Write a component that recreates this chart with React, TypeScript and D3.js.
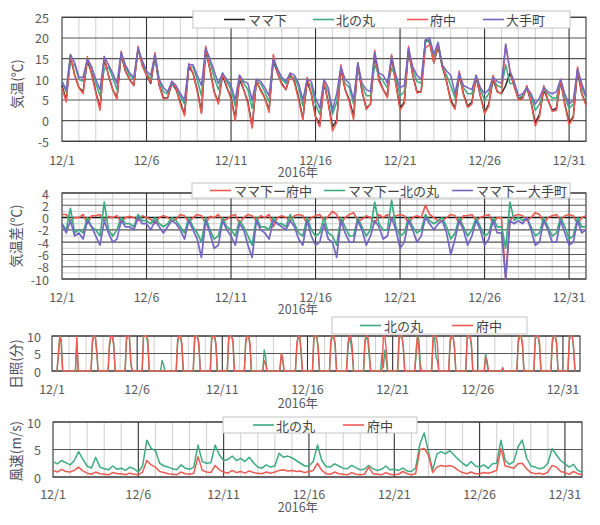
import React from 'react';
import * as d3 from 'd3';

const FONT = '"Noto Sans CJK JP", "Noto Sans", sans-serif';
const TEXT = '#595959';
const TITLE = '#4d4d5c';

const DAYS = 31;
const STEPS_PER_DAY = 4; // values at 0h, 6h, 12h, 18h
const sunHours = [7, 9, 11, 13, 15, 17];

const dateLabels = ['12/1', '12/6', '12/11', '12/16', '12/21', '12/26', '12/31'];
const dateLabelDays = [0, 5, 10, 15, 20, 25, 30];
const yearLabel = '2016年';

const tempNames = ['ママ下', '北の丸', '府中', '大手町'];
const diffNames = ['ママ下ー府中', 'ママ下ー北の丸', 'ママ下ー大手町'];
const stationNames = ['北の丸', '府中'];

const C_BLACK = '#262626';
const C_GREEN = '#3dab80';
const C_RED = '#ec5b52';
const C_PURPLE = '#7466c2';

// ママ下 air temperature (°C), 6-hourly from 12/1 0h
const tempMamashita = [
  8.5, 5.0, 15.5, 11.0,
  8.0, 7.0, 14.5, 11.5,
  7.0, 3.0, 15.0, 11.0,
  7.5, 5.5, 16.0, 12.0,
  10.0, 8.5, 17.5, 13.5,
  11.0, 9.0, 15.5, 8.5,
  5.5, 5.5, 9.0, 7.5,
  4.5, 1.5, 13.0, 11.5,
  7.5, 2.0, 17.0, 12.5,
  7.0, 4.5, 11.0, 8.0,
  5.5, 0.5, 10.0, 7.5,
  4.5, -1.5, 9.5, 7.5,
  5.5, 2.5, 14.5, 11.5,
  9.0, 7.5, 11.0, 9.5,
  5.5, 0.5, 9.5, 6.5,
  1.0, -1.0, 9.0, 4.5,
  -1.5, 0.0, 12.5, 7.5,
  5.0, 1.0, 13.5, 7.0,
  3.0, 4.0, 16.0, 10.0,
  7.5, 6.0, 15.5, 9.0,
  3.0, 4.5, 17.0, 11.0,
  7.0, 7.0, 19.5, 19.0,
  14.0, 18.0, 13.0, 9.5,
  5.0, 3.0, 11.0, 6.5,
  3.5, 4.5, 10.5, 6.0,
  2.0, 4.0, 10.0, 7.0,
  6.5, 8.5, 11.5, 8.5,
  5.5, 5.5, 8.0, 4.5,
  -0.5, 1.5, 7.5, 5.0,
  2.5, 3.0, 9.5, 4.0,
  -0.5, 1.0, 12.0, 6.5,
  4.0,
];

// ママ下 − 府中 (°C)
const diffFuchu = [
  0.5, 0.5, -0.5, 0,
  0, 0.5, -1, 0.3,
  0.3, 0.5, -0.5, 0.2,
  0, 0.3, -0.8, 0,
  0.2, 0, -0.5, 0.3,
  0, -0.3, -1, 0,
  0.3, 0, -0.5, -0.3,
  0.5, 0.3, -0.8, 0,
  0.5, 0.3, -1, 0.2,
  0, 0.5, -0.5, -0.3,
  0.3, 0.5, -1, 0,
  0.5, 0.3, -0.5, 0.3,
  0, 0.5, -1.5, 0,
  0.3, 0, -0.5, 0.3,
  0.5, 0.3, -1, 0,
  0.3, 0.5, -0.5, 0.2,
  1.0, 0.5, -1, 0,
  0.5, 0.8, -0.5, -0.3,
  0.3, 0, -1, 0.5,
  0, 0.5, -0.5, 0.3,
  0.5, 0.3, -1, 0,
  0.3, 0, 2.0, 0.5,
  0, -0.5, -0.5, 0,
  0.5, 0.3, -1, 0.3,
  0.3, 0.5, -0.5, 0,
  0.3, 0.5, -1, 0,
  0, -10, -0.5, 0.3,
  0.5, 0.3, -0.5, 0,
  0.8, 0.5, -1, 0,
  0.3, 0.5, -0.5, 0.3,
  0.5, 0.3, -1, 0,
  0.3,
];

// ママ下 − 北の丸 (°C)
const diffKitanomaru = [
  -1, -2, 1.5, -2.5,
  -2, -2.5, 0, -1.5,
  -2, -3, 2.5, -2,
  -3, -2, 0, -1,
  -1, -1.5, 0.5, -0.5,
  -0.5, -1, 0, -1,
  -1.5, -1, 0, -0.5,
  -1.5, -2.5, 0, -1.5,
  -2.5, -4, 0, -2,
  -3.5, -3, 0, -1.5,
  -2, -3, -0.5, -1.5,
  -3, -4.5, 0, -1.5,
  -1.5, -2, 0, -1,
  -1, -1.5, 0.5, -1,
  -2.5, -3, 0, -2,
  -3, -2.5, 0, -2.5,
  -3, -4.5, 0, -1.5,
  -3, -3, 0, -1.5,
  -3, -2, 2.5, -1,
  -2, -2, 2.8, -1.5,
  -3, -2.5, 0, -1.5,
  -2.5, -2, 0.5, -0.5,
  -1, -0.5, 0, -1.5,
  -3.5, -2.5, 0, -1.5,
  -3, -2, 0, -1.5,
  -3, -2.5, 0, -1.5,
  -1.5, -5, 2.5, -0.5,
  0, -0.5, 0, -1.5,
  -3, -2.5, 0, -1.5,
  -3, -2.5, 0, -1.5,
  -3.5, -3, 0, -1.5,
  -1.5,
];

// ママ下 − 大手町 (°C)
const diffOtemachi = [
  -1, -2.5, -0.5, -3,
  -2.5, -3.5, -0.5, -1.5,
  -3, -4.5, -0.5, -2.5,
  -4, -3.5, -0.5, -1.5,
  -1.5, -2, 0, -1,
  -1, -2, -0.5, -1.5,
  -2.5, -1.5, -0.5, -1,
  -2, -3.5, -0.5, -2,
  -3.5, -6.5, -0.5, -2.5,
  -5, -4.5, -0.5, -2,
  -3, -4.5, -1, -2,
  -4.5, -6.5, -0.5, -2,
  -2.5, -3.5, -0.5, -1,
  -1.5, -2, -0.5, -1.5,
  -3.5, -4.5, -0.5, -3,
  -4.5, -4, -1, -3.5,
  -4, -6.5, -0.5, -2.5,
  -4, -4, -0.5, -2,
  -4.5, -3, -0.5, -1.5,
  -3.5, -3, 0, -2,
  -5, -4, -0.5, -2,
  -4, -3, 0, -1,
  -2, -1, -0.5, -2.5,
  -6, -3.5, -0.5, -2,
  -4.5, -3, -0.5, -2,
  -4.5, -3.5, -0.5, -2.5,
  -2.5, -10, -0.5, -1,
  -0.5, -1, 0, -2,
  -4.5, -4, -0.5, -2,
  -4, -4, -0.5, -2.5,
  -4.5, -4, -0.5, -2.5,
  -2,
];

// sunshine (minutes per 10 min) at sunHours for each day
const sunKitanomaru = [
  0, 4, 10, 9, 0, 0,
  0, 0, 8, 0, 0, 0,
  0, 8, 10, 10, 5, 0,
  0, 7, 10, 10, 8, 0,
  0, 9, 10, 10, 2, 0,
  0, 10, 10, 10, 8, 0,
  0, 0, 3, 2, 0, 0,
  0, 8, 10, 10, 7, 0,
  0, 9, 10, 10, 8, 0,
  0, 10, 10, 10, 7, 0,
  0, 9, 10, 10, 9, 0,
  0, 9, 10, 10, 7, 0,
  0, 0, 6, 4, 0, 0,
  0, 0, 4, 3, 0, 0,
  0, 7, 10, 10, 5, 0,
  0, 9, 10, 10, 6, 0,
  0, 8, 10, 10, 7, 0,
  0, 6, 10, 8, 5, 0,
  0, 8, 10, 9, 4, 0,
  0, 5, 1, 6, 3, 0,
  0, 9, 10, 10, 7, 0,
  0, 4, 10, 9, 2, 0,
  0, 9, 10, 4, 3, 0,
  0, 8, 10, 10, 7, 0,
  0, 9, 10, 10, 7, 0,
  0, 0, 5, 2, 0, 0,
  0, 0, 0, 0, 0, 0,
  0, 8, 10, 10, 7, 0,
  0, 9, 10, 10, 7, 0,
  0, 8, 10, 10, 8, 0,
  0, 9, 10, 10, 6, 0,
];

const sunFuchu = [
  0, 5, 10, 8, 0, 0,
  0, 0, 10, 0, 0, 0,
  0, 9, 10, 10, 6, 0,
  0, 8, 10, 10, 7, 0,
  0, 10, 10, 10, 3, 0,
  0, 10, 10, 10, 9, 0,
  0, 0, 0, 0, 0, 0,
  0, 9, 10, 10, 8, 0,
  0, 10, 10, 10, 7, 0,
  0, 9, 10, 10, 8, 0,
  0, 10, 10, 10, 8, 0,
  0, 8, 10, 10, 8, 0,
  0, 0, 3, 2, 0, 0,
  0, 0, 5, 4, 0, 0,
  0, 8, 10, 10, 6, 0,
  0, 10, 10, 10, 7, 0,
  0, 9, 10, 10, 8, 0,
  0, 8, 10, 10, 7, 0,
  0, 9, 10, 10, 6, 0,
  0, 0, 10, 10, 6, 0,
  0, 10, 10, 10, 7, 0,
  0, 6, 10, 6, 0, 0,
  0, 10, 10, 10, 8, 0,
  0, 9, 10, 10, 7, 0,
  0, 10, 10, 10, 8, 0,
  0, 0, 4, 3, 0, 0,
  0, 0, 1, 0, 0, 0,
  0, 9, 10, 10, 8, 0,
  0, 10, 10, 10, 8, 0,
  0, 9, 10, 10, 8, 0,
  0, 10, 10, 10, 7, 0,
];

// wind speed (m/s), 6-hourly
const windKitanomaru = [
  2.8, 2.4, 3.0, 2.6,
  2.2, 3.0, 4.6, 3.2,
  2.0, 1.6, 3.6, 1.8,
  1.5, 1.3, 2.0, 1.4,
  1.6, 1.2, 1.8, 1.5,
  0.9, 2.0, 6.7, 5.2,
  4.8, 2.5, 2.0, 1.8,
  1.5, 1.3, 2.2, 1.6,
  1.4, 1.8, 5.8, 2.8,
  2.5, 2.6, 5.8, 4.0,
  3.0, 3.2, 3.8, 3.0,
  3.4, 2.8, 3.6, 2.6,
  1.8, 1.6, 2.2, 1.8,
  2.0, 4.3, 3.6, 3.8,
  3.5, 3.0, 2.5, 2.0,
  2.0, 2.8, 5.8, 3.0,
  1.9, 1.8, 2.4, 2.0,
  1.6, 1.5, 2.1, 1.7,
  1.3, 1.4, 2.1, 1.5,
  1.2, 1.4, 2.0, 1.3,
  1.4, 1.2, 1.6, 1.1,
  1.0, 1.6, 6.0, 8.0,
  4.6, 1.2, 4.2, 4.6,
  4.2, 4.8, 4.0, 3.2,
  2.5, 2.0, 2.8, 2.0,
  1.8, 2.2, 1.6, 2.4,
  2.5, 6.7, 3.0, 2.3,
  2.8, 5.5, 6.7, 3.5,
  2.0, 1.8, 1.5, 1.7,
  2.5, 5.2, 4.0, 3.0,
  2.4, 1.8, 2.3, 1.2,
  0.9,
];

const windFuchu = [
  1.2, 0.9, 1.4, 1.0,
  0.9, 1.2, 1.8, 1.1,
  0.7, 0.5, 0.9, 0.6,
  0.5, 0.4, 0.8, 0.6,
  0.6, 0.4, 0.7, 0.5,
  0.4, 0.9, 3.0, 2.2,
  1.8, 1.0, 0.8, 0.6,
  0.5, 0.4, 0.9, 0.6,
  0.5, 0.7, 3.7, 1.2,
  0.9, 0.8, 2.1, 1.3,
  0.9, 0.7, 1.2, 0.8,
  1.0, 0.7, 1.1, 0.8,
  0.7, 0.6, 0.9, 0.7,
  0.9, 1.2, 1.3, 1.1,
  1.2, 1.0, 1.1, 0.8,
  1.0, 1.2, 2.5, 1.2,
  0.6, 0.5, 0.9, 0.6,
  0.5, 0.4, 0.8, 0.5,
  0.4, 0.5, 1.8, 0.6,
  0.5, 0.4, 0.8, 0.5,
  0.4, 0.5, 1.0, 0.6,
  0.4, 0.6, 5.0, 5.2,
  4.0, 0.8, 1.8, 2.1,
  1.9, 2.1, 1.8, 1.2,
  0.8, 0.6, 0.9, 0.6,
  0.6, 0.8, 0.7, 0.9,
  1.2, 5.2, 2.0, 1.8,
  1.6, 2.4, 2.5, 1.5,
  0.8, 0.6, 0.7, 0.5,
  0.9, 2.1, 1.8, 1.0,
  0.8, 0.5, 1.0, 0.6,
  0.4,
];

type Pt = [number, number];
const stepSeries = (vals: number[]): Pt[] => vals.map((v, i) => [i / STEPS_PER_DAY, v]);
const sunSeries = (vals: number[]): Pt[] =>
  vals.map((v, i) => [Math.floor(i / sunHours.length) + sunHours[i % sunHours.length] / 24, v]);

interface LineDef { pts: Pt[]; color: string; width: number; }
interface LegendItem { label: string; color: string; x1: number; tx: number; }
interface PanelProps {
  left: number; right: number; top: number; bottom: number;
  yDomain: [number, number];
  yTicks: number[];
  minorY?: number[];
  zeroDark?: boolean;
  lines: LineDef[];
  legend: { x: number; y: number; w: number; h: number; items: LegendItem[] };
  title: string; titleX: number; titleY: number;
  tickY: number; yearY: number; yLabelEnd: number;
}

function Panel(p: PanelProps) {
  const x = d3.scaleLinear().domain([0, DAYS]).range([p.left, p.right]);
  const y = d3.scaleLinear().domain(p.yDomain).range([p.bottom, p.top]);
  const line = d3.line<Pt>().x(d => x(d[0])).y(d => y(d[1]));
  const days = d3.range(1, DAYS);
  const ly = p.legend.y + p.legend.h / 2;
  return (
    <g>
      <rect x={p.left} y={p.top} width={p.right - p.left} height={p.bottom - p.top} fill="#fff" />
      {days.filter(d => d % 5 !== 0).map(d => (
        <line key={'mv' + d} x1={x(d)} x2={x(d)} y1={p.top} y2={p.bottom} stroke="#cfcfcf" strokeWidth={1} />
      ))}
      {(p.minorY || []).map(v => (
        <line key={'mh' + v} x1={p.left} x2={p.right} y1={y(v)} y2={y(v)} stroke="#d0d0d0" strokeWidth={1} />
      ))}
      {p.yTicks.map(v => (
        <line key={'h' + v} x1={p.left} x2={p.right} y1={y(v)} y2={y(v)}
          stroke={p.zeroDark && v === 0 ? '#111' : '#555'} strokeWidth={p.zeroDark && v === 0 ? 1.6 : 1.1} />
      ))}
      {days.filter(d => d % 5 === 0).map(d => (
        <line key={'v' + d} x1={x(d)} x2={x(d)} y1={p.top} y2={p.bottom} stroke="#333" strokeWidth={1.1} />
      ))}
      <rect x={p.left} y={p.top} width={p.right - p.left} height={p.bottom - p.top} fill="none" stroke="#333" strokeWidth={1.1} />
      {p.lines.map((l, i) => (
        <path key={'l' + i} d={line(l.pts) || ''} fill="none" stroke={l.color} strokeWidth={l.width} strokeLinejoin="round" />
      ))}
      {p.yTicks.map(v => (
        <text key={'yt' + v} x={p.yLabelEnd} y={y(v)} textAnchor="end" dominantBaseline="central"
          fontSize={12.5} fill={TEXT}>{v}</text>
      ))}
      {dateLabelDays.map((d, i) => (
        <text key={'xt' + d} x={x(d)} y={p.tickY} textAnchor="middle" dominantBaseline="central"
          fontSize={12.5} fill={TEXT}>{dateLabels[i]}</text>
      ))}
      <text x={298} y={p.yearY} textAnchor="middle" dominantBaseline="central" fontSize={12.5} fill={TEXT}>{yearLabel}</text>
      <g transform={`translate(${p.titleX},${p.titleY}) rotate(-90)`}>
        <text x={0} y={0} textAnchor="middle" dominantBaseline="central" fontSize={13.5} fill={TITLE}>{p.title}</text>
      </g>
      <rect x={p.legend.x} y={p.legend.y} width={p.legend.w} height={p.legend.h} fill="#fff" stroke="#c4c4c4" strokeWidth={1} />
      {p.legend.items.map((it, i) => (
        <g key={'lg' + i}>
          <line x1={it.x1} x2={it.x1 + 21} y1={ly} y2={ly} stroke={it.color} strokeWidth={1.6} />
          <text x={it.tx} y={ly} dominantBaseline="central" fontSize={13} fill="#444">{it.label}</text>
        </g>
      ))}
    </g>
  );
}

export default function App() {
  const tKita = tempMamashita.map((v, i) => v - diffKitanomaru[i]);
  const tFuchu = tempMamashita.map((v, i) => v - diffFuchu[i]);
  const tOte = tempMamashita.map((v, i) => v - diffOtemachi[i]);

  return (
    <svg width={600} height={525} style={{ position: 'absolute', left: 0, top: 0, background: '#fff', fontFamily: FONT }}>
      <rect x={0} y={0} width={600} height={525} fill="#fff" />
      <Panel
        left={62} right={586} top={17.3} bottom={141.3}
        yDomain={[-5, 25]} yTicks={[-5, 0, 5, 10, 15, 20, 25]}
        lines={[
          { pts: stepSeries(tempMamashita), color: C_BLACK, width: 1.5 },
          { pts: stepSeries(tKita), color: C_GREEN, width: 1.5 },
          { pts: stepSeries(tFuchu), color: C_RED, width: 1.5 },
          { pts: stepSeries(tOte), color: C_PURPLE, width: 1.5 },
        ]}
        legend={{
          x: 193, y: 11, w: 377, h: 17, items: [
            { label: tempNames[0], color: C_BLACK, x1: 224, tx: 248 },
            { label: tempNames[1], color: C_GREEN, x1: 313, tx: 336 },
            { label: tempNames[2], color: C_RED, x1: 407, tx: 430 },
            { label: tempNames[3], color: C_PURPLE, x1: 483, tx: 506 },
          ]
        }}
        title="気温(℃)" titleX={16} titleY={84}
        tickY={159} yearY={171} yLabelEnd={49}
      />
      <Panel
        left={62} right={586} top={193} bottom={279}
        yDomain={[-10, 4]} yTicks={[-10, -8, -6, -4, -2, 0, 2, 4]}
        minorY={[-9, -7, -5, -3, -1, 1, 3]} zeroDark
        lines={[
          { pts: stepSeries(diffFuchu), color: C_RED, width: 1.7 },
          { pts: stepSeries(diffKitanomaru), color: C_GREEN, width: 1.7 },
          { pts: stepSeries(diffOtemachi), color: C_PURPLE, width: 1.7 },
        ]}
        legend={{
          x: 192, y: 183, w: 378, h: 15, items: [
            { label: diffNames[0], color: C_RED, x1: 210, tx: 234 },
            { label: diffNames[1], color: C_GREEN, x1: 324, tx: 348 },
            { label: diffNames[2], color: C_PURPLE, x1: 452, tx: 476 },
          ]
        }}
        title="気温差(℃)" titleX={15} titleY={236}
        tickY={296} yearY={308} yLabelEnd={49}
      />
      <Panel
        left={52} right={580} top={336} bottom={371}
        yDomain={[0, 10]} yTicks={[0, 5, 10]}
        lines={[
          { pts: sunSeries(sunKitanomaru), color: C_GREEN, width: 1.4 },
          { pts: sunSeries(sunFuchu), color: C_RED, width: 1.4 },
        ]}
        legend={{
          x: 332, y: 317, w: 195, h: 17, items: [
            { label: stationNames[0], color: C_GREEN, x1: 360, tx: 384 },
            { label: stationNames[1], color: C_RED, x1: 452, tx: 476 },
          ]
        }}
        title="日照(分)" titleX={15} titleY={364}
        tickY={388} yearY={402} yLabelEnd={41}
      />
      <Panel
        left={53} right={582} top={422} bottom={477}
        yDomain={[0, 10]} yTicks={[0, 5, 10]}
        lines={[
          { pts: stepSeries(windKitanomaru), color: C_GREEN, width: 1.5 },
          { pts: stepSeries(windFuchu), color: C_RED, width: 1.5 },
        ]}
        legend={{
          x: 223, y: 417, w: 194, h: 16, items: [
            { label: stationNames[0], color: C_GREEN, x1: 253, tx: 276 },
            { label: stationNames[1], color: C_RED, x1: 343, tx: 367 },
          ]
        }}
        title="風速(m/s)" titleX={15} titleY={451}
        tickY={493} yearY={506} yLabelEnd={41}
      />
    </svg>
  );
}
